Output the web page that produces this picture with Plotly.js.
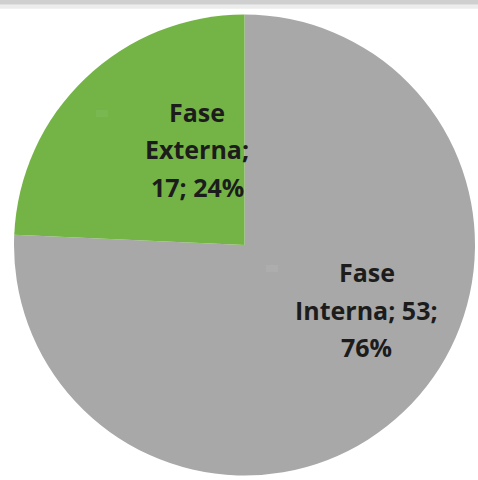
<!DOCTYPE html>
<html>
<head>
<meta charset="utf-8">
<script src="https://cdn.plot.ly/plotly-3.0.1.min.js"></script>
<style>html,body{margin:0;padding:0;background:#fff;}#chart{width:478px;height:480px;}</style>
</head>
<body>
<div id="chart"></div>
<script>
const labels = ["Fase Interna", "Fase Externa"];
const values = [53, 17];
const colors = ["#a8a8a8", "#74b446"];

const total = values.reduce((a, b) => a + b, 0);
const pct = values.map(v => Math.round(v / total * 100));

// label block positions (paper coords) and line spacing
const labelPos = [{x: 0.767, y: 0.433}, {x: 0.413, y: 0.767}];
const lineStep = 0.078;

const annotations = [];
labels.forEach((lab, i) => {
  const words = lab.split(" ");
  const lines = i === 0
    ? [words[0], words[1] + "; " + values[i] + ";", pct[i] + "%"]
    : [words[0], words[1] + ";", values[i] + "; " + pct[i] + "%"];
  lines.forEach((t, k) => {
    annotations.push({
      text: t, xref: "paper", yref: "paper",
      x: labelPos[i].x, y: labelPos[i].y - k * lineStep,
      xanchor: "center", yanchor: "middle", showarrow: false,
      font: {family: "'Open Sans', Lato, sans-serif", size: 25, color: "#1c1c1c", weight: "bold"}
    });
  });
});

const data = [{
  type: "pie",
  labels: labels,
  values: values,
  marker: {colors: colors, line: {width: 0}},
  sort: false,
  direction: "clockwise",
  rotation: 0,
  textinfo: "none",
  hoverinfo: "label+value+percent",
  domain: {x: [14/478, 475/478], y: [4/480, 466/480]},
  showlegend: false
}];

const layout = {
  width: 478, height: 480,
  margin: {l: 0, r: 0, t: 0, b: 0},
  paper_bgcolor: "#ffffff",
  showlegend: false,
  annotations: annotations,
  shapes: [
    {type: "rect", xref: "paper", yref: "paper", x0: 0, x1: 1, y0: 0.99, y1: 1, fillcolor: "#cfcfcf", line: {width: 0}},
    {type: "rect", xref: "paper", yref: "paper", x0: 0, x1: 1, y0: 0.982, y1: 0.99, fillcolor: "#ececec", line: {width: 0}},
    {type: "rect", xref: "paper", yref: "paper", x0: 96/478, x1: 108/478, y0: 1 - 117/480, y1: 1 - 110/480, fillcolor: "#79b750", line: {width: 0}},
    {type: "rect", xref: "paper", yref: "paper", x0: 266/478, x1: 278/478, y0: 1 - 272/480, y1: 1 - 265/480, fillcolor: "#adadad", line: {width: 0}}
  ]
};

Plotly.newPlot("chart", data, layout, {displayModeBar: false, staticPlot: true});
</script>
</body>
</html>
